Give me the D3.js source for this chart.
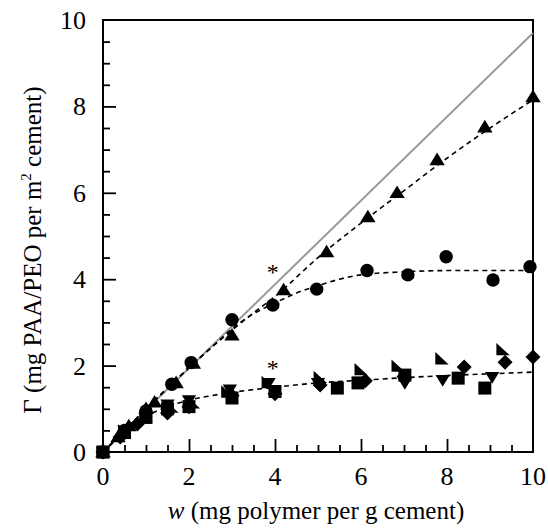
<!DOCTYPE html>
<html><head><meta charset="utf-8">
<script src="https://cdn.jsdelivr.net/npm/d3@7"></script>
<style>
body{margin:0;background:#fff}
svg text, svg tspan{font-family:"Liberation Serif","Tinos","Nimbus Roman",serif !important}
</style>
</head><body>
<svg id="c" width="548" height="528"></svg>
<script>
// ---- data ----
const xTicks = [0, 2, 4, 6, 8, 10];
const yTicks = [0, 2, 4, 6, 8, 10];
const triUp = [[0,0],[0.35,0.35],[0.6,0.6],[1.0,1.0],[1.2,1.15],[1.7,1.6],[2.1,2.05],[3.0,2.7],[4.2,3.75],[5.2,4.63],[6.16,5.44],[6.84,6.0],[7.77,6.76],[8.88,7.52],[10.0,8.22]];
const circles = [[0,0],[0.5,0.5],[1.0,0.95],[1.6,1.57],[2.05,2.07],[3.0,3.06],[3.95,3.40],[4.97,3.77],[6.14,4.2],[7.09,4.1],[7.98,4.52],[9.07,3.98],[9.93,4.29]];
const squares = [[0,0],[0.5,0.45],[1.0,0.8],[1.5,1.0],[2.0,1.05],[3.0,1.25],[4.0,1.4],[5.45,1.48],[5.93,1.6],[7.02,1.78],[8.26,1.71],[8.88,1.48]];
const diamonds = [[0,0],[0.4,0.35],[0.8,0.65],[1.5,0.9],[2.0,1.05],[3.0,1.3],[4.0,1.35],[5.05,1.55],[6.1,1.65],[7.0,1.75],[8.4,1.97],[9.35,2.08],[10.0,2.2]];
const triDown = [[0,0],[0.5,0.5],[1.0,0.8],[1.5,1.1],[2.0,1.2],[2.95,1.45],[3.85,1.6],[5.0,1.6],[6.0,1.62],[7.02,1.6],[7.9,1.67],[9.05,1.74]];
const triRight = [[0,0],[0.5,0.5],[1.0,0.85],[1.6,1.05],[2.1,1.15],[2.9,1.4],[3.84,1.62],[5.05,1.74],[6.0,1.92],[6.86,2.0],[7.88,2.17],[9.3,2.38]];
const fitTri = [[0,0],[0.5,0.5],[1,1],[1.5,1.48],[2,1.95],[2.5,2.4],[3,2.82],[3.5,3.22],[4,3.6],[5,4.5],[6,5.3],[7,6.05],[8,6.8],[9,7.5],[10,8.15]];
const fitCircle = [[0,0],[0.5,0.5],[1,1],[1.5,1.48],[2,1.95],[2.5,2.4],[3,2.85],[3.5,3.2],[4,3.45],[4.5,3.68],[5,3.85],[5.5,4.0],[6,4.1],[7,4.17],[8,4.2],[9,4.2],[10,4.2]];
const fitLow = [[0,0],[0.5,0.45],[1,0.82],[1.5,1.05],[2,1.2],[2.5,1.3],[3,1.38],[4,1.5],[5,1.6],[6,1.66],[7,1.72],[8,1.77],[9,1.81],[10,1.85]];
const greyLine = [[0,0],[10,9.7]];
const asterisks = [[3.95,4.23],[3.95,2.01]];

// ---- layout ----
const svg = d3.select("#c");
const x = d3.scaleLinear().domain([0,10]).range([103,533]);
const y = d3.scaleLinear().domain([0,10]).range([452,20]);

// frame
svg.append("rect").attr("x",x(0)).attr("y",y(10)).attr("width",x(10)-x(0)).attr("height",y(0)-y(10))
  .attr("fill","none").attr("stroke","#000").attr("stroke-width",2);

// axes with inward ticks (labels drawn separately)
const xAxis = d3.axisBottom(x).tickValues(d3.range(0,10.01,0.5)).tickSize(-7).tickFormat("");
const gx = svg.append("g").attr("transform",`translate(0,${y(0)})`).call(xAxis);
gx.selectAll(".tick text").remove();
gx.selectAll(".tick line").attr("stroke-width",1.8).attr("y2",d=>(Math.abs(d%2)<1e-9)?-13:-7);
gx.select(".domain").remove();
gx.attr("font-family",null);
const yAxis = d3.axisLeft(y).tickValues(d3.range(0,10.01,0.5)).tickSize(-7).tickFormat("");
const gy = svg.append("g").attr("transform",`translate(${x(0)},0)`).call(yAxis);
gy.selectAll(".tick text").remove();
gy.selectAll(".tick line").attr("stroke-width",1.8).attr("x2",d=>(Math.abs(d%2)<1e-9)?13:7);
gy.select(".domain").remove();
gy.attr("font-family",null);
gx.selectAll(".tick").filter(d=>d===0||d===10).remove();
gy.selectAll(".tick").filter(d=>d===0||d===10).remove();

// tick labels
svg.selectAll(".xl").data(xTicks).enter().append("text")
  .attr("x",d=>x(d)).attr("y",485).attr("text-anchor","middle").attr("font-size",26).text(d=>d);
svg.selectAll(".yl").data(yTicks).enter().append("text")
  .attr("x",86).attr("y",d=>y(d)+9).attr("text-anchor","end").attr("font-size",26).text(d=>d);

// axis titles
const xt = svg.append("text").attr("x",316).attr("y",519).attr("text-anchor","middle").attr("font-size",25);
xt.append("tspan").attr("font-style","italic").text("w");
xt.append("tspan").text(" (mg polymer per g cement)");
const yt = svg.append("text").attr("transform","translate(41,250) rotate(-90)").attr("text-anchor","middle").attr("font-size",25);
yt.append("tspan").text("Γ (mg PAA/PEO per m");
yt.append("tspan").attr("font-size",15).attr("dy",-10).text("2");
yt.append("tspan").attr("dy",10).text(" cement)");

// lines
const line = d3.line().x(d=>x(d[0])).y(d=>y(d[1])).curve(d3.curveMonotoneX);
svg.append("path").attr("d",d3.line().x(d=>x(d[0])).y(d=>y(d[1]))(greyLine))
  .attr("stroke","#999").attr("stroke-width",2).attr("fill","none");
[fitTri, fitCircle, fitLow].forEach(f=>{
  svg.append("path").attr("d",line(f)).attr("stroke","#000").attr("stroke-width",1.6)
    .attr("fill","none").attr("stroke-dasharray","5,4");
});

// markers
const shapes = {
  triUp: s=>`M0,${-s*1.05}L${s*1.1},${s*0.75}L${-s*1.1},${s*0.75}Z`,
  triDown: s=>`M0,${s*1.05}L${s*1.1},${-s*0.75}L${-s*1.1},${-s*0.75}Z`,
  square: s=>`M${-s},${-s}H${s}V${s}H${-s}Z`,
  diamond: s=>`M0,${-s*1.25}L${s*1.25},0L0,${s*1.25}L${-s*1.25},0Z`,
  triRight: s=>`M${-s},${-s*0.95}L${s*1.05},${s*0.95}L${-s},${s*0.95}Z`
};
function drawPts(data, type, s){
  const g = svg.append("g");
  if(type==="circle"){
    g.selectAll("circle").data(data).enter().append("circle")
      .attr("cx",d=>x(d[0])).attr("cy",d=>y(d[1])).attr("r",s).attr("fill","#000");
  } else {
    g.selectAll("path").data(data).enter().append("path")
      .attr("transform",d=>`translate(${x(d[0])},${y(d[1])})`).attr("d",shapes[type](s)).attr("fill","#000");
  }
}
drawPts(triRight,"triRight",6.5);
drawPts(diamonds,"diamond",6);
drawPts(triDown,"triDown",6.5);
drawPts(squares,"square",6.5);
drawPts(circles,"circle",6.7);
drawPts(triUp,"triUp",7);

// asterisks
svg.selectAll(".ast").data(asterisks).enter().append("text")
  .attr("x",d=>x(d[0])).attr("y",d=>y(d[1])+11).attr("text-anchor","middle").attr("font-size",24).attr("fill","#000").text("*");
</script>
</body></html>
